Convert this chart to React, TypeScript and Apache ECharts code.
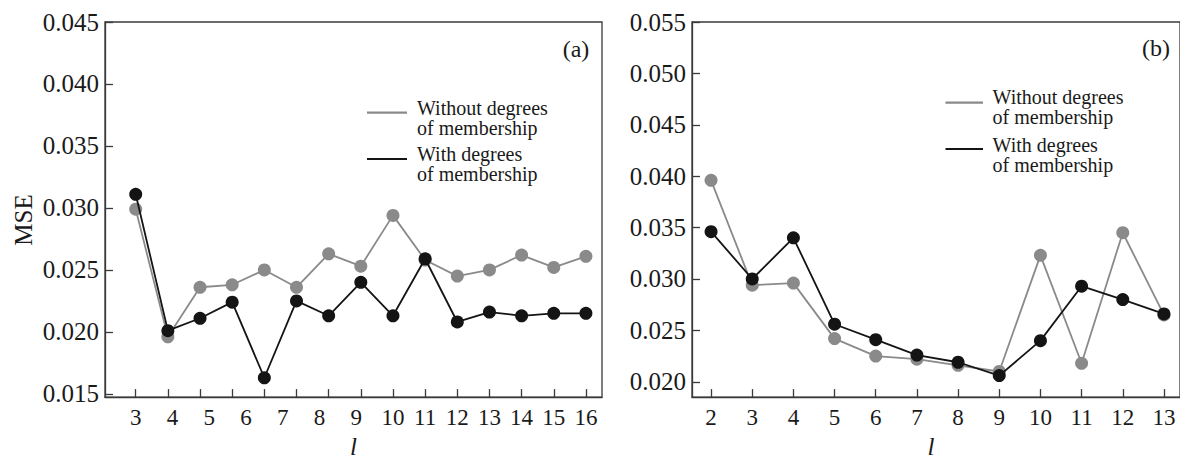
import React, { useEffect, useRef } from 'react';
import * as echarts from 'echarts';

// Panel (a): 15 measured points, tick labels 3..16 as printed
const lLabelsA = ['3', '4', '5', '6', '7', '8', '9', '10', '11', '12', '13', '14', '15', '16'];
const withoutA = [0.0299, 0.0196, 0.0236, 0.0238, 0.025, 0.0236, 0.0263, 0.0253, 0.0294, 0.0258, 0.0245, 0.025, 0.0262, 0.0252, 0.0261];
const withA = [0.0311, 0.0201, 0.0211, 0.0224, 0.0163, 0.0225, 0.0213, 0.024, 0.0213, 0.0259, 0.0208, 0.0216, 0.0213, 0.0215, 0.0215];

// Panel (b)
const lB = [2, 3, 4, 5, 6, 7, 8, 9, 10, 11, 12, 13];
const withoutB = [0.0396, 0.0294, 0.0296, 0.0242, 0.0225, 0.0222, 0.0216, 0.021, 0.0323, 0.0218, 0.0345, 0.0265];
const withB = [0.0346, 0.03, 0.034, 0.0256, 0.0241, 0.0226, 0.0219, 0.0206, 0.024, 0.0293, 0.028, 0.0266];

const yTicksA = [0.015, 0.02, 0.025, 0.03, 0.035, 0.04, 0.045];
const yTicksB = [0.02, 0.025, 0.03, 0.035, 0.04, 0.045, 0.05, 0.055];

const seriesNames = ['Without degrees', 'With degrees'];
const nameTail = 'of membership';
const panelLabels = ['(a)', '(b)'];
const yName = 'MSE';
const xName = 'l';

const GRAY = '#8a8a8a';
const BLACK = '#141414';
const AXIS = '#3a3a3a';
const TEXT = '#1a1a1a';
const FONT = 'Liberation Serif, serif';

export default function App() {
  const ref = useRef<HTMLDivElement>(null);

  useEffect(() => {
    if (!ref.current) return;
    const chart = echarts.init(ref.current, null, { renderer: 'svg' });

    const idxA = withoutA.map((_, i) => i);
    const tickSlotsA = idxA;
    // printed labels: first 8 spread over ticks 0..8, remaining on ticks 9..14
    const labelSlotsA = lLabelsA.map((_, j) => (j < 8 ? (j * 8) / 7 : j + 1));

    const axisLineStyle = { color: AXIS, width: 1.3 };
    const tick = { show: true, inside: true, length: 8, lineStyle: { color: AXIS, width: 1.3 } };

    const lineSeries = (name: string, xs: number[], ys: number[], color: string, idx: number, z: number) => ({
      type: 'line',
      name,
      xAxisIndex: idx,
      yAxisIndex: idx,
      data: xs.map((x, i) => [x, ys[i]]),
      symbol: 'circle',
      symbolSize: 13,
      z,
      lineStyle: { color, width: 1.8 },
      itemStyle: { color },
      emphasis: { disabled: true },
    });

    const LH = 20;
    const legendGraphic = (lineX1: number, lineX2: number, textX: number, entries: { y: number; t1: number; color: string; name: string }[]) =>
      entries.flatMap((e) => [
        { type: 'line', shape: { x1: lineX1, y1: e.y, x2: lineX2, y2: e.y }, style: { stroke: e.color, lineWidth: 2.2 } },
        {
          type: 'text',
          x: textX,
          y: e.t1 - LH / 2,
          style: {
            text: `${e.name}\n${nameTail}`,
            fontFamily: FONT,
            fontSize: 20,
            lineHeight: LH,
            fill: TEXT,
            verticalAlign: 'top',
            align: 'left',
          },
        },
      ]);

    const option: any = {
      animation: false,
      backgroundColor: '#ffffff',
      textStyle: { fontFamily: FONT },
      grid: [
        { left: 105, top: 22, width: 497, height: 384, show: true, borderColor: AXIS, borderWidth: 1.3, backgroundColor: 'transparent' },
        { left: 692, top: 22, width: 492, height: 384.7, show: true, borderColor: AXIS, borderWidth: 1.3, backgroundColor: 'transparent' },
      ],
      xAxis: [
        {
          type: 'value',
          gridIndex: 0,
          min: -0.955,
          max: 14.5,
          splitLine: { show: false },
          axisLine: { show: true, onZero: false, lineStyle: axisLineStyle },
          axisTick: { ...tick, customValues: tickSlotsA },
          axisLabel: {
            customValues: labelSlotsA,
            margin: 9,
            color: TEXT,
            fontFamily: FONT,
            fontSize: 23,
            formatter: (v: number) => {
              let best = 0;
              labelSlotsA.forEach((s, j) => {
                if (Math.abs(s - v) < Math.abs(labelSlotsA[best] - v)) best = j;
              });
              return lLabelsA[best];
            },
          },
          name: xName,
          nameLocation: 'middle',
          nameGap: 33,
          nameTextStyle: { fontFamily: FONT, fontStyle: 'italic', fontSize: 25, color: TEXT },
        },
        {
          type: 'value',
          gridIndex: 1,
          min: 1.537,
          max: 13.39,
          splitLine: { show: false },
          axisLine: { show: true, onZero: false, lineStyle: axisLineStyle },
          axisTick: { ...tick, customValues: lB },
          axisLabel: {
            customValues: lB,
            margin: 9,
            color: TEXT,
            fontFamily: FONT,
            fontSize: 23,
            formatter: (v: number) => String(Math.round(v)),
          },
          name: xName,
          nameLocation: 'middle',
          nameGap: 33,
          nameTextStyle: { fontFamily: FONT, fontStyle: 'italic', fontSize: 25, color: TEXT, padding: [0, 10, 0, 0] },
        },
      ],
      yAxis: [
        {
          type: 'value',
          gridIndex: 0,
          min: 0.01474,
          max: 0.045,
          splitLine: { show: false },
          axisLine: { show: true, onZero: false, lineStyle: axisLineStyle },
          axisTick: { ...tick, customValues: yTicksA },
          axisLabel: {
            customValues: yTicksA,
            margin: 6,
            color: TEXT,
            fontFamily: FONT,
            fontSize: 25,
            formatter: (v: number) => v.toFixed(3),
          },
        },
        {
          type: 'value',
          gridIndex: 1,
          min: 0.01851,
          max: 0.055,
          splitLine: { show: false },
          axisLine: { show: true, onZero: false, lineStyle: axisLineStyle },
          axisTick: { ...tick, customValues: yTicksB },
          axisLabel: {
            customValues: yTicksB,
            margin: 6,
            color: TEXT,
            fontFamily: FONT,
            fontSize: 25,
            formatter: (v: number) => v.toFixed(3),
          },
        },
      ],
      series: [
        lineSeries(seriesNames[0], idxA, withoutA, GRAY, 0, 2),
        lineSeries(seriesNames[1], idxA, withA, BLACK, 0, 3),
        lineSeries(seriesNames[0], lB, withoutB, GRAY, 1, 2),
        lineSeries(seriesNames[1], lB, withB, BLACK, 1, 3),
      ],
      graphic: [
        ...legendGraphic(367, 407, 417, [
          { y: 112.7, t1: 107.5, color: GRAY, name: seriesNames[0] },
          { y: 159, t1: 153.5, color: BLACK, name: seriesNames[1] },
        ]),
        ...legendGraphic(945.5, 983, 992.6, [
          { y: 102.7, t1: 96.5, color: GRAY, name: seriesNames[0] },
          { y: 149, t1: 145, color: BLACK, name: seriesNames[1] },
        ]),
        { type: 'text', x: 576, y: 49, style: { text: panelLabels[0], fontFamily: FONT, fontSize: 24, fill: TEXT, align: 'center', verticalAlign: 'middle' } },
        { type: 'text', x: 1156, y: 47.5, style: { text: panelLabels[1], fontFamily: FONT, fontSize: 24, fill: TEXT, align: 'center', verticalAlign: 'middle' } },
        { type: 'text', x: 23.3, y: 220, rotation: Math.PI / 2, style: { text: yName, fontFamily: FONT, fontSize: 25, fill: TEXT, align: 'center', verticalAlign: 'middle' } },
      ],
    };

    chart.setOption(option);
    return () => chart.dispose();
  }, []);

  return (
    <div
      ref={ref}
      style={{ position: 'fixed', left: 0, top: 0, width: 1180, height: 464, background: '#ffffff' }}
    />
  );
}
